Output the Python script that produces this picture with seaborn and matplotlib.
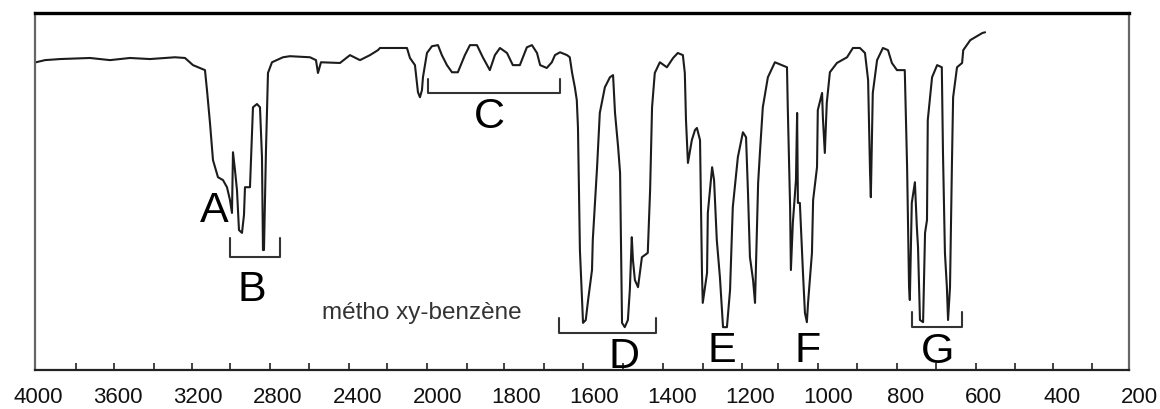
import numpy as np
import pandas as pd
import matplotlib
matplotlib.use("Agg")
import matplotlib.pyplot as plt
import matplotlib.transforms as mtransforms
from matplotlib.ticker import FixedLocator, NullFormatter
import seaborn as sns

# ---- data: IR spectrum of methoxybenzene (wavenumber cm-1, transmittance %) ----
wavenumber = [
    4010, 3965, 3890, 3740, 3640, 3540, 3440, 3315, 3265, 3225, 3165, 3155, 3140, 3125,
    3100, 3075, 3055, 3040, 3030, 3025, 3015, 3005, 2995, 2980, 2970, 2965, 2940, 2930,
    2925, 2905, 2890, 2880, 2875, 2870, 2860, 2850, 2830, 2775, 2740, 2640, 2610, 2600,
    2585, 2490, 2440, 2390, 2340, 2300, 2290, 2155, 2140, 2115, 2100, 2090, 2080, 2075,
    2055, 2030, 2000, 1990, 1977, 1964, 1949, 1931, 1918, 1900, 1885, 1867, 1854, 1841,
    1823, 1808, 1790, 1772, 1759, 1746, 1738, 1721, 1708, 1700, 1687, 1669, 1662, 1656,
    1649, 1644, 1641, 1636, 1628, 1621, 1615, 1605, 1603, 1592, 1585, 1572, 1559, 1551,
    1546, 1538, 1533, 1528, 1521, 1513, 1508, 1503, 1500, 1495, 1487, 1477, 1462, 1456,
    1451, 1444, 1431, 1413, 1397, 1385, 1372, 1367, 1364, 1359, 1349, 1341, 1336, 1328,
    1323, 1321, 1310, 1308, 1297, 1292, 1285, 1277, 1269, 1259, 1251, 1244, 1231, 1218,
    1210, 1205, 1200, 1192, 1187, 1179, 1174, 1167, 1154, 1136, 1118, 1105, 1103, 1097,
    1095, 1090, 1082, 1079, 1077, 1072, 1064, 1059, 1054, 1051, 1041, 1038, 1028, 1026,
    1015, 1013, 1008, 1003, 995, 977, 951, 936, 918, 905, 897, 892, 890, 885,
    874, 859, 846, 836, 823, 803, 797, 795, 792, 790, 785, 777, 772, 769,
    764, 756, 751, 746, 744, 733, 720, 708, 705, 700, 695, 692, 687, 682,
    679, 669, 656, 653, 635, 604, 597,
]
transmittance = [
    86.2, 86.8, 87.1, 87.4, 86.8, 87.4, 87.1, 87.6, 87.4, 85.4, 84.0, 78.4, 69.2, 58.8,
    54.0, 53.2, 51.2, 47.6, 44.0, 61.0, 56.0, 50.4, 39.2, 38.4, 43.4, 51.2, 51.2, 66.4,
    73.6, 74.5, 73.6, 59.6, 33.6, 33.6, 61.6, 83.2, 86.2, 87.6, 87.9, 87.6, 86.8, 83.2,
    86.2, 86.0, 88.2, 86.8, 88.2, 89.6, 90.2, 90.2, 87.4, 85.4, 77.8, 76.4, 78.4, 82.0,
    88.8, 90.7, 91.0, 88.2, 85.4, 83.4, 83.4, 88.2, 91.0, 91.0, 87.6, 84.0, 88.2, 90.2,
    88.8, 85.4, 85.4, 90.4, 91.0, 88.8, 85.4, 84.6, 86.2, 88.2, 89.0, 88.2, 87.6, 83.2,
    79.2, 75.6, 68.0, 33.6, 13.2, 14.0, 19.6, 28.0, 36.4, 56.8, 72.0, 79.2, 82.0, 82.6,
    72.0, 62.4, 55.2, 13.2, 12.0, 14.0, 22.4, 37.2, 30.8, 25.2, 23.2, 31.6, 32.8, 50.4,
    73.6, 83.2, 86.2, 84.8, 87.4, 88.8, 88.2, 83.2, 70.0, 58.0, 64.4, 67.2, 67.8, 64.4,
    27.2, 18.8, 27.2, 44.0, 56.8, 53.2, 36.4, 26.0, 12.0, 12.0, 22.4, 45.6, 59.6, 66.6,
    65.2, 49.6, 31.6, 25.2, 18.8, 52.4, 61.6, 73.6, 82.0, 86.2, 85.4, 84.8, 73.6, 45.6,
    28.0, 41.2, 53.2, 72.0, 46.8, 46.8, 27.2, 16.0, 13.4, 18.8, 32.8, 47.6, 56.8, 72.8,
    77.6, 70.8, 60.8, 74.8, 83.4, 86.0, 87.6, 90.2, 90.2, 88.8, 81.2, 55.2, 48.4, 77.6,
    86.8, 90.2, 89.6, 86.0, 84.0, 84.0, 56.8, 44.0, 23.2, 19.6, 46.8, 52.6, 40.0, 34.4,
    14.0, 13.4, 38.4, 42.0, 70.0, 82.0, 85.4, 84.8, 60.8, 32.8, 23.2, 14.0, 23.2, 58.0,
    76.4, 84.8, 86.0, 89.6, 92.4, 94.4, 94.6,
]

tick_values = [4000, 3600, 3200, 2800, 2400, 2000, 1800, 1600, 1400, 1200,
               1000, 800, 600, 400, 200]

# band labels: letter, wavenumber, transmittance
band_names = ["A", "B", "C", "D", "E", "F", "G"]
band_wn = [3120, 2930, 1867, 1523, 1272, 1051, 720]
band_t = [44.5, 22.4, 70.8, 3.6, 5.4, 5.4, 5.1]

# brackets: (wn_left, wn_right, t_top, t_bottom)
bracket_wn_left = [3040, 2050, 1690, 785]
bracket_wn_right = [2790, 1687, 1441, 656]
bracket_t_top = [37.0, 81.5, 14.6, 16.2]
bracket_t_bottom = [31.6, 77.6, 10.4, 12.0]

compound = "métho xy-benzène"

df = pd.DataFrame({"wn": wavenumber, "T": transmittance})

sns.set_theme(style="white")
plt.rcParams["font.family"] = ["Liberation Sans", "DejaVu Sans"]

fig = plt.figure(figsize=(11.6, 4.09), dpi=100)
ax = fig.add_axes([35 / 1160, 39 / 409, 1094 / 1160, 357 / 409])

RATIO = 0.5128


def fwd(x):
    x = np.asarray(x, dtype=float)
    return np.where(x <= 2000, x, 2000 + (x - 2000) * RATIO)


def inv(y):
    y = np.asarray(y, dtype=float)
    return np.where(y <= 2000, y, 2000 + (y - 2000) / RATIO)


ax.set_xscale("function", functions=(fwd, inv))
sns.lineplot(data=df, x="wn", y="T", sort=False, estimator=None,
             color="#1c1c1c", linewidth=1.5, ax=ax)

ax.set_xlim(4015, 228)
ax.set_ylim(0, 100)
ax.set_xlabel("")
ax.set_ylabel("")
ax.set_yticks([])

LABEL_Y = -0.076
shown = [v for v in tick_values if v >= 228]
ax.xaxis.set_major_locator(FixedLocator(shown))
ax.xaxis.set_major_formatter(NullFormatter())
ax.tick_params(axis="x", which="major", length=0)
minor_ticks = [3810, 3620, 3420, 3230, 3040, 2840, 2645, 2445, 2255, 2055,
               1926, 1831, 1728, 1628, 1526, 1423, 1321, 1221, 1128, 1026,
               926, 823, 723, 621, 521, 423, 323]
ax.xaxis.set_minor_locator(FixedLocator(minor_ticks))
ax.xaxis.set_minor_formatter(NullFormatter())
ax.tick_params(axis="x", which="minor", direction="in", length=5, width=1.2,
               color="#222222", bottom=True)

trans = mtransforms.blended_transform_factory(ax.transData, ax.transAxes)
for v in tick_values:
    ax.text(v, LABEL_Y, str(v), transform=trans, ha="center", va="center",
            fontsize=16, color="#111111", clip_on=False)

for sp in ["left", "right"]:
    ax.spines[sp].set_color("#666666")
    ax.spines[sp].set_linewidth(1.6)
ax.spines["bottom"].set_color("#222222")
ax.spines["bottom"].set_linewidth(1.6)
ax.spines["top"].set_color("#000000")
ax.spines["top"].set_linewidth(2.4)

for name, x, y in zip(band_names, band_wn, band_t):
    ax.text(x, y, name, ha="center", va="center", fontsize=31, color="#000000")

for xl, xr, yt, yb in zip(bracket_wn_left, bracket_wn_right, bracket_t_top, bracket_t_bottom):
    ax.plot([xl, xl, xr, xr], [yt, yb, yb, yt], color="#333333", linewidth=1.5)

ax.text(2080, 16.0, compound, ha="center", va="center", fontsize=17.5, color="#333333")

fig.savefig("out.png", dpi=100)
